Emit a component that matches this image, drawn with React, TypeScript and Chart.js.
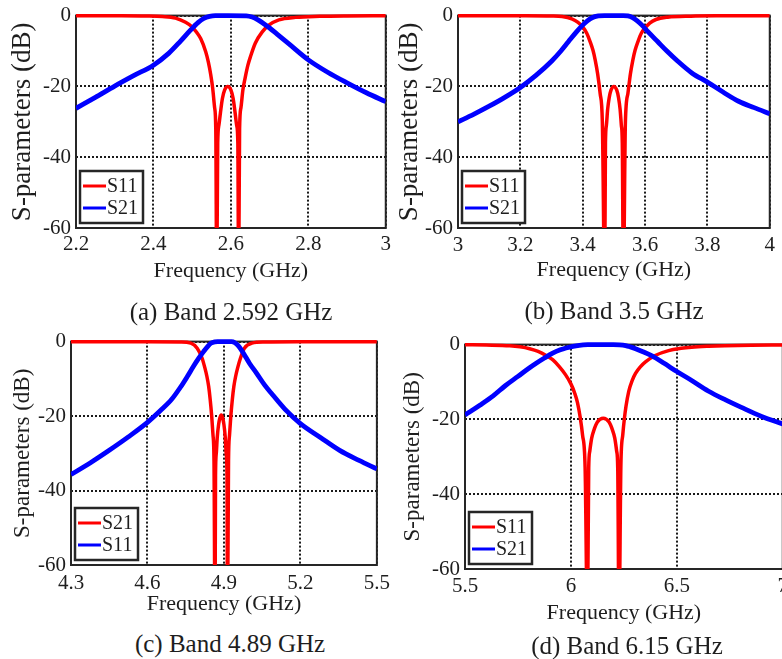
import React, { useEffect, useRef } from "react";
import { Chart, registerables } from "chart.js";
Chart.register(...registerables);

// ---------- data ----------
// (a) Band 2.592 GHz
const freqA_S11 = [2.2, 2.3, 2.38, 2.423, 2.457, 2.483, 2.5, 2.512, 2.522, 2.535, 2.542, 2.548, 2.553, 2.558, 2.561, 2.5635, 2.566, 2.569, 2.573, 2.578, 2.584, 2.592, 2.6, 2.606, 2.611, 2.615, 2.618, 2.62, 2.6225, 2.626, 2.631, 2.637, 2.644, 2.65, 2.663, 2.681, 2.698, 2.724, 2.767, 2.83, 2.9, 3.0];
const dbA_S11 = [-0.01, -0.03, -0.1, -0.25, -0.7, -1.9, -3.2, -4.8, -6.5, -10.2, -13.2, -16.7, -20.5, -26, -32, -75, -36, -31, -27.5, -23.5, -21, -20, -21, -23.5, -27.5, -31, -36, -75, -32, -26, -21, -17.5, -14, -11.8, -7.8, -4.6, -2.7, -1.2, -0.5, -0.2, -0.08, -0.03];
const freqA_S21 = [2.2, 2.25, 2.3, 2.35, 2.4, 2.44, 2.47, 2.495, 2.515, 2.53, 2.545, 2.56, 2.593, 2.64, 2.655, 2.67, 2.685, 2.7, 2.72, 2.75, 2.8, 2.85, 2.9, 2.95, 3.0];
const dbA_S21 = [-26.2, -23.1, -19.9, -16.9, -14, -10.6, -7.2, -4.2, -2.0, -0.8, -0.2, 0, 0, -0.05, -0.4, -1.2, -2.3, -3.5, -5.3, -8, -12.5, -16, -19, -21.8, -24.3];
const xTicksA = [2.2, 2.4, 2.6, 2.8, 3.0];
const xTickLabelsA = ["2.2", "2.4", "2.6", "2.8", "3"];

// (b) Band 3.5 GHz
const freqB_S11 = [3.0, 3.2, 3.3, 3.334, 3.365, 3.385, 3.4, 3.413, 3.424, 3.433, 3.44, 3.448, 3.456, 3.463, 3.4705, 3.473, 3.476, 3.48, 3.485, 3.491, 3.5, 3.509, 3.515, 3.52, 3.524, 3.527, 3.5305, 3.537, 3.545, 3.553, 3.561, 3.568, 3.577, 3.588, 3.6, 3.615, 3.635, 3.673, 3.747, 3.85, 4.0];
const dbB_S11 = [-0.01, -0.03, -0.1, -0.25, -0.9, -1.9, -3.2, -5, -7.4, -9.8, -12.5, -16.5, -22, -30, -75, -36, -31, -26.5, -23.2, -21, -20, -21, -23.2, -26.5, -31, -36, -75, -30, -22, -16.5, -12.5, -9.8, -7.4, -5, -3.5, -2.1, -1.1, -0.45, -0.15, -0.05, -0.02];
const freqB_S21 = [3.0, 3.05, 3.1, 3.15, 3.2, 3.25, 3.3, 3.33, 3.354, 3.38, 3.4, 3.415, 3.43, 3.45, 3.47, 3.53, 3.545, 3.56, 3.575, 3.59, 3.61, 3.641, 3.67, 3.705, 3.75, 3.8, 3.85, 3.9, 3.95, 4.0];
const dbB_S21 = [-30, -27.9, -25.6, -23.1, -20.3, -16.9, -12.9, -10, -7.4, -4.6, -2.7, -1.5, -0.6, -0.1, 0, 0, -0.1, -0.6, -1.5, -2.7, -4.6, -7.4, -10, -12.9, -16.2, -18.8, -21.6, -24.2, -26, -27.7];
const xTicksB = [3.0, 3.2, 3.4, 3.6, 3.8, 4.0];
const xTickLabelsB = ["3", "3.2", "3.4", "3.6", "3.8", "4"];

// (c) Band 4.89 GHz
const freqC_S11 = [4.3, 4.6, 4.73, 4.77, 4.795, 4.814, 4.825, 4.833, 4.84, 4.846, 4.852, 4.857, 4.861, 4.865, 4.867, 4.87, 4.874, 4.879, 4.884, 4.8895, 4.895, 4.9, 4.905, 4.909, 4.912, 4.914, 4.918, 4.922, 4.927, 4.933, 4.939, 4.946, 4.954, 4.965, 4.98, 5.01, 5.06, 5.2, 5.5];
const dbC_S11 = [-0.01, -0.02, -0.1, -0.4, -1.8, -4.4, -7, -9.3, -12, -15.5, -20, -25, -32, -75, -36, -30, -25.5, -22.3, -20.5, -19.7, -20.5, -22.3, -25.5, -30, -36, -75, -32, -25, -20, -15.5, -12, -9.3, -7, -4.4, -1.8, -0.4, -0.1, -0.02, -0.01];
const freqC_S21 = [4.3, 4.375, 4.45, 4.525, 4.6, 4.65, 4.695, 4.73, 4.757, 4.78, 4.802, 4.82, 4.835, 4.85, 4.865, 4.875, 4.93, 4.943, 4.955, 4.968, 4.98, 5.0, 5.027, 5.06, 5.09, 5.14, 5.2, 5.28, 5.354, 5.43, 5.5];
const dbC_S21 = [-35.7, -32.6, -29.2, -25.6, -21.7, -18.6, -15.5, -12.2, -9.3, -6.7, -4.4, -2.7, -1.4, -0.4, -0.05, 0, 0, -0.3, -1.0, -2.2, -3.5, -5.8, -8.4, -11.7, -14.2, -18.2, -22, -25.8, -29.2, -31.9, -34.2];
const xTicksC = [4.3, 4.6, 4.9, 5.2, 5.5];
const xTickLabelsC = ["4.3", "4.6", "4.9", "5.2", "5.5"];

// (d) Band 6.15 GHz
const freqD_S11 = [5.5, 5.6, 5.711, 5.76, 5.805, 5.845, 5.883, 5.915, 5.945, 5.975, 6.0, 6.018, 6.031, 6.044, 6.055, 6.067, 6.078, 6.084, 6.089, 6.098, 6.109, 6.125, 6.1525, 6.18, 6.196, 6.207, 6.216, 6.221, 6.227, 6.236, 6.245, 6.252, 6.26, 6.273, 6.29, 6.305, 6.33, 6.352, 6.398, 6.461, 6.52, 6.57, 6.65, 6.727, 6.85, 7.0];
const dbD_S11 = [-0.05, -0.12, -0.3, -0.6, -1.1, -1.8, -2.9, -4.1, -5.9, -8.1, -10.5, -13, -15.5, -19.5, -24.2, -32.9, -75, -33, -28.5, -25, -22.8, -20.7, -19.7, -20.7, -22.8, -25, -28.5, -33, -75, -32, -24, -20, -16.5, -12.5, -9.5, -7.7, -5.8, -4.6, -2.9, -1.6, -1.0, -0.7, -0.45, -0.3, -0.17, -0.1];
const freqD_S21 = [5.5, 5.57, 5.633, 5.69, 5.75, 5.8, 5.836, 5.875, 5.914, 5.95, 5.977, 6.01, 6.04, 6.08, 6.1, 6.2, 6.23, 6.258, 6.28, 6.305, 6.34, 6.383, 6.44, 6.5, 6.57, 6.648, 6.73, 6.805, 6.9, 7.0];
const dbD_S21 = [-18.8, -16.2, -13.7, -11, -8.5, -6.4, -5, -3.6, -2.3, -1.4, -0.9, -0.45, -0.2, -0.03, 0, 0, -0.05, -0.25, -0.6, -1.1, -1.9, -3.0, -5, -7.2, -9.6, -12.4, -14.8, -16.8, -19.2, -21.2];
const xTicksD = [5.5, 6.0, 6.5, 7.0];
const xTickLabelsD = ["5.5", "6", "6.5", "7"];

const yTicks = [-60, -40, -20, 0];
const yTickLabels = ["-60", "-40", "-20", "0"];

const legendA = ["S11", "S21"];
const legendB = ["S11", "S21"];
const legendC = ["S21", "S11"];
const legendD = ["S11", "S21"];

const captionA = "(a) Band 2.592 GHz";
const captionB = "(b) Band 3.5 GHz";
const captionC = "(c) Band 4.89 GHz";
const captionD = "(d) Band 6.15 GHz";

const xTitle = "Frequency (GHz)";
const yTitle = "S-parameters (dB)";

// ---------- styles ----------
const FONT = "'Liberation Serif', 'Times New Roman', serif";
const TEXT = "#1e1e1e";
const RED = "#ff0000";
const BLUE = "#0000ff";
const GRID = "#1a1a1a";

const framePlugin = {
  id: "frameAndLegend",
  beforeDatasetsDraw(chart: any) {
    const { ctx, chartArea: a } = chart;
    ctx.save();
    ctx.strokeStyle = "#262626";
    ctx.lineWidth = 2;
    ctx.strokeRect(a.left, a.top, a.right - a.left, a.bottom - a.top);
    ctx.restore();
  },
  afterDatasetsDraw(chart: any) {
    const { ctx, chartArea: a } = chart;
    const bw = 63, bh = 52;
    const bx = a.left + 4;
    const by = a.bottom - 5 - bh;
    ctx.save();
    ctx.fillStyle = "#ffffff";
    ctx.fillRect(bx, by, bw, bh);
    ctx.strokeStyle = "#262626";
    ctx.lineWidth = 2.5;
    ctx.strokeRect(bx, by, bw, bh);
    chart.data.datasets.forEach((ds: any, i: number) => {
      const cy = by + 15 + i * 22;
      ctx.strokeStyle = ds.borderColor;
      ctx.lineWidth = 3;
      ctx.beginPath();
      ctx.moveTo(bx + 3, cy);
      ctx.lineTo(bx + 26, cy);
      ctx.stroke();
      ctx.fillStyle = TEXT;
      ctx.font = `20px ${FONT}`;
      ctx.textBaseline = "middle";
      ctx.textAlign = "left";
      ctx.fillText(ds.label, bx + 27, cy + 1);
    });
    ctx.restore();
  },
};

type PanelCfg = {
  left: number; top: number; w: number; h: number;
  padL: number; padT: number; padR: number;
  yWidth: number; xHeight: number;
  yTitleSize: number; yTitlePad: number; xTickPad: number;
  xMin: number; xMax: number; xTicks: number[]; xLabels: string[];
  redX: number[]; redY: number[]; blueX: number[]; blueY: number[];
  legend: string[];
};

function Panel({ cfg }: { cfg: PanelCfg }) {
  const ref = useRef<HTMLCanvasElement>(null);
  useEffect(() => {
    const clip = { left: 0, top: 5, right: 0, bottom: 0 };
    const chart = new Chart(ref.current as HTMLCanvasElement, {
      type: "line",
      data: {
        datasets: [
          {
            label: cfg.legend[0],
            data: cfg.redX.map((x, i) => ({ x, y: cfg.redY[i] })),
            borderColor: RED,
            backgroundColor: RED,
            borderWidth: 3.5,
            pointRadius: 0,
            cubicInterpolationMode: "monotone",
            clip,
            order: 1,
          } as any,
          {
            label: cfg.legend[1],
            data: cfg.blueX.map((x, i) => ({ x, y: cfg.blueY[i] })),
            borderColor: BLUE,
            backgroundColor: BLUE,
            borderWidth: 4.8,
            pointRadius: 0,
            cubicInterpolationMode: "monotone",
            clip,
            order: 0,
          } as any,
        ],
      },
      options: {
        responsive: false,
        animation: false,
        devicePixelRatio: 1,
        layout: { padding: { left: cfg.padL, top: cfg.padT, right: cfg.padR, bottom: 0 } },
        plugins: { legend: { display: false }, tooltip: { enabled: false } },
        scales: {
          x: {
            type: "linear",
            min: cfg.xMin,
            max: cfg.xMax,
            afterBuildTicks: (s: any) => { s.ticks = cfg.xTicks.map((v) => ({ value: v })); },
            afterFit: (s: any) => { s.height = cfg.xHeight; },
            ticks: {
              callback: (_v: any, i: number) => cfg.xLabels[i],
              font: { family: FONT, size: 21 },
              color: TEXT,
              padding: cfg.xTickPad,
              maxRotation: 0,
              autoSkip: false,
            },
            grid: { color: GRID, lineWidth: 2, drawTicks: false },
            border: { display: false, dash: [2, 2] },
            title: { display: true, text: xTitle, font: { family: FONT, size: 22 }, color: TEXT, padding: { top: 0, bottom: 0 } },
          },
          y: {
            type: "linear",
            min: -60,
            max: 0,
            afterBuildTicks: (s: any) => { s.ticks = yTicks.map((v) => ({ value: v })); },
            afterFit: (s: any) => { s.width = cfg.yWidth; },
            ticks: {
              callback: (_v: any, i: number) => yTickLabels[i],
              font: { family: FONT, size: 21 },
              color: TEXT,
              padding: 5,
              autoSkip: false,
            },
            grid: { color: GRID, lineWidth: 2, drawTicks: false },
            border: { display: false, dash: [2, 2] },
            title: { display: true, text: yTitle, font: { family: FONT, size: cfg.yTitleSize }, color: TEXT, padding: { top: cfg.yTitlePad, bottom: 0 } },
          },
        },
      } as any,
      plugins: [framePlugin],
    });
    return () => chart.destroy();
  }, []);
  return (
    <canvas
      ref={ref}
      width={cfg.w}
      height={cfg.h}
      style={{ position: "absolute", left: cfg.left, top: cfg.top, width: cfg.w, height: cfg.h }}
    />
  );
}

const panels: PanelCfg[] = [
  {
    left: 0, top: -2, w: 395, h: 286, padL: 0, padT: 14, padR: 8, yWidth: 76, xHeight: 56,
    yTitleSize: 27, yTitlePad: 7, xTickPad: 4,
    xMin: 2.2, xMax: 3.0, xTicks: xTicksA, xLabels: xTickLabelsA,
    redX: freqA_S11, redY: dbA_S11, blueX: freqA_S21, blueY: dbA_S21, legend: legendA,
  },
  {
    left: 390, top: -2, w: 390, h: 285, padL: 0, padT: 14, padR: 8, yWidth: 68, xHeight: 55,
    yTitleSize: 27, yTitlePad: 4, xTickPad: 5,
    xMin: 3.0, xMax: 4.0, xTicks: xTicksB, xLabels: xTickLabelsB,
    redX: freqB_S11, redY: dbB_S11, blueX: freqB_S21, blueY: dbB_S21, legend: legendB,
  },
  {
    left: 0, top: 324, w: 396, h: 293, padL: 0, padT: 14, padR: 8, yWidth: 71, xHeight: 52,
    yTitleSize: 23, yTitlePad: 9, xTickPad: 6,
    xMin: 4.3, xMax: 5.5, xTicks: xTicksC, xLabels: xTickLabelsC,
    redX: freqC_S11, redY: dbC_S11, blueX: freqC_S21, blueY: dbC_S21, legend: legendC,
  },
  {
    left: 390, top: 327, w: 403, h: 299, padL: 0, padT: 14, padR: 8, yWidth: 75, xHeight: 57,
    yTitleSize: 23, yTitlePad: 9, xTickPad: 5,
    xMin: 5.5, xMax: 7.0, xTicks: xTicksD, xLabels: xTickLabelsD,
    redX: freqD_S11, redY: dbD_S11, blueX: freqD_S21, blueY: dbD_S21, legend: legendD,
  },
];

const captions = [
  { text: captionA, x: 231, y: 311 },
  { text: captionB, x: 614, y: 310 },
  { text: captionC, x: 230, y: 643 },
  { text: captionD, x: 627, y: 645 },
];

export default function App() {
  return (
    <div style={{ position: "absolute", left: 0, top: 0, width: 782, height: 659, overflow: "hidden", background: "#fff" }}>
      {panels.map((p, i) => <Panel key={i} cfg={p} />)}
      {captions.map((c, i) => (
        <div
          key={"c" + i}
          style={{
            position: "absolute", left: c.x, top: c.y, transform: "translate(-50%, -50%)",
            fontFamily: FONT, fontSize: 25, color: TEXT, whiteSpace: "nowrap", lineHeight: 1,
          }}
        >
          {c.text}
        </div>
      ))}
    </div>
  );
}
